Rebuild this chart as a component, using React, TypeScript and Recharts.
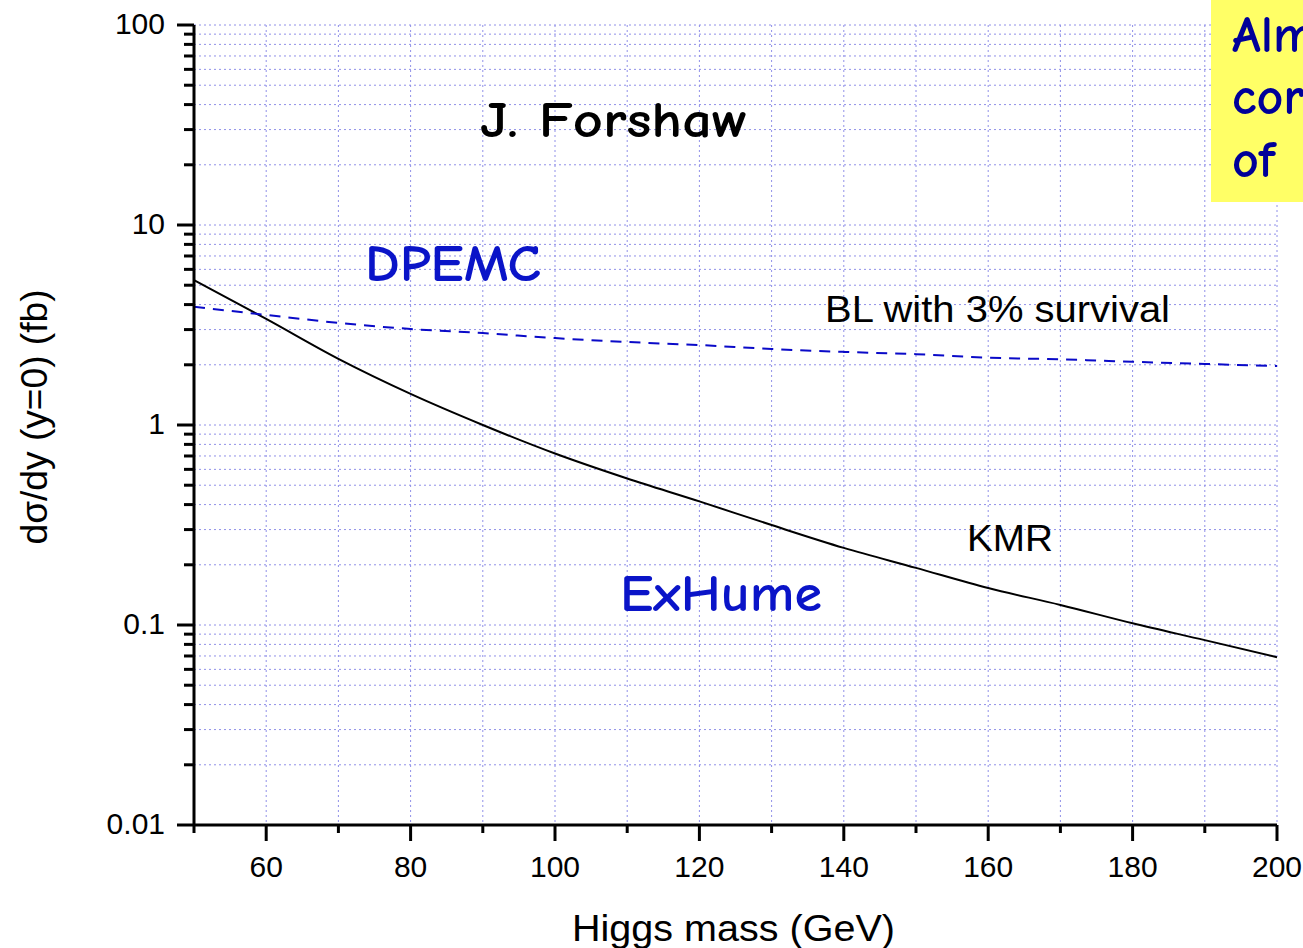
import { LineChart, Line, XAxis, YAxis, CartesianGrid } from "recharts";

// Higgs mass (GeV)
const masses = [50, 60, 70, 80, 90, 100, 110, 120, 130, 140, 150, 160, 170, 180, 190, 200];
// KMR, d sigma/dy at y=0 (fb)
const kmr = [5.3, 3.39, 2.14, 1.43, 1.0, 0.72, 0.54, 0.415, 0.316, 0.243, 0.193, 0.153, 0.126, 0.102, 0.084, 0.069];
// BL with 3% survival
const bl = [3.9, 3.55, 3.24, 3.02, 2.88, 2.72, 2.6, 2.51, 2.4, 2.32, 2.26, 2.17, 2.13, 2.07, 2.02, 1.97];

const xTicks = [50, 60, 70, 80, 90, 100, 110, 120, 130, 140, 150, 160, 170, 180, 190, 200];
const xLabelled = [60, 80, 100, 120, 140, 160, 180, 200];
const yTicks = [
  0.01, 0.02, 0.03, 0.04, 0.05, 0.06, 0.07, 0.08, 0.09,
  0.1, 0.2, 0.3, 0.4, 0.5, 0.6, 0.7, 0.8, 0.9,
  1, 2, 3, 4, 5, 6, 7, 8, 9,
  10, 20, 30, 40, 50, 60, 70, 80, 90,
  100,
];
const yLabelled = [0.01, 0.1, 1, 10, 100];

const rows = masses.map((m, i) => ({ m, kmr: kmr[i], bl: bl[i] }));

const sans = "'Liberation Sans', Arial, sans-serif";
const comic = "'Comic Sans MS', 'Comic Neue', 'DejaVu Sans', cursive";

const XTick = (p: any) => {
  const v = p.payload.value;
  const major = xLabelled.includes(v);
  return (
    <g>
      <line x1={p.x} x2={p.x} y1={p.y} y2={p.y + (major ? 16 : 8)} stroke="#000" strokeWidth={3} />
      {major && (
        <text x={p.x} y={p.y + 52} textAnchor="middle" fontSize={30} fontFamily={sans} fill="#000">
          {v}
        </text>
      )}
    </g>
  );
};

const YTick = (p: any) => {
  const v = p.payload.value;
  const major = yLabelled.includes(v);
  return (
    <g>
      <line x1={p.x} x2={p.x - (major ? 17 : 10)} y1={p.y} y2={p.y} stroke="#000" strokeWidth={3} />
      {major && (
        <text x={p.x - 29} y={p.y + 9} textAnchor="end" fontSize={30} fontFamily={sans} fill="#000">
          {v}
        </text>
      )}
    </g>
  );
};

export default function App() {
  return (
    <div style={{ position: "relative", width: 1303, height: 948, background: "#fff", overflow: "hidden" }}>
      <style>{"body{margin:0}"}</style>
      <LineChart width={1303} height={948} data={rows} margin={{ top: 25, right: 26, bottom: 0, left: 0 }}>
        <CartesianGrid stroke="#9090e8" strokeDasharray="2 3" strokeWidth={1} syncWithTicks />
        <XAxis
          dataKey="m"
          type="number"
          domain={[50, 200]}
          ticks={xTicks}
          interval={0}
          height={123}
          tickSize={0}
          tickMargin={0}
          tickLine={false}
          tick={<XTick />}
          axisLine={{ stroke: "#000", strokeWidth: 3 }}
        />
        <YAxis
          type="number"
          scale="log"
          domain={[0.01, 100]}
          allowDataOverflow
          ticks={yTicks}
          interval={0}
          width={194}
          tickSize={0}
          tickMargin={0}
          tickLine={false}
          tick={<YTick />}
          axisLine={{ stroke: "#000", strokeWidth: 3 }}
        />
        <Line dataKey="kmr" type="monotone" stroke="#000" strokeWidth={2} dot={false} isAnimationActive={false} />
        <Line
          dataKey="bl"
          type="monotone"
          stroke="#0a0ac8"
          strokeWidth={2}
          strokeDasharray="11 8"
          dot={false}
          isAnimationActive={false}
        />
      </LineChart>
      <svg width={1303} height={948} style={{ position: "absolute", left: 0, top: 0, pointerEvents: "none" }}>
        <text x={480} y={137} fontSize={50} fontWeight="bold" fontFamily={comic} fill="#000" textLength={268} lengthAdjust="spacingAndGlyphs">
          J. Forshaw
        </text>
        <text x={365} y={281} fontSize={52} fontWeight="bold" fontFamily={comic} fill="#0a14c8" textLength={176} lengthAdjust="spacingAndGlyphs">
          DPEMC
        </text>
        <text x={620} y={611} fontSize={52} fontWeight="bold" fontFamily={comic} fill="#0a14c8" textLength={202} lengthAdjust="spacingAndGlyphs">
          ExHume
        </text>
        <text x={825} y={322} fontSize={36} fontFamily={sans} fill="#000" textLength={345} lengthAdjust="spacingAndGlyphs">
          BL with 3% survival
        </text>
        <text x={967} y={551} fontSize={36} fontFamily={sans} fill="#000" textLength={86} lengthAdjust="spacingAndGlyphs">
          KMR
        </text>
        <text x={572} y={941} fontSize={37} fontFamily={sans} fill="#000" textLength={323} lengthAdjust="spacingAndGlyphs">
          Higgs mass (GeV)
        </text>
        <text
          x={47}
          y={417}
          transform="rotate(-90, 47, 417)"
          textAnchor="middle"
          fontSize={36}
          fontFamily={sans}
          fill="#000"
          textLength={255}
          lengthAdjust="spacingAndGlyphs"
        >
          dσ/dy (y=0) (fb)
        </text>
        <rect x={1211} y={0} width={92} height={202} fill="#ffff66" />
        <text fontSize={52} fontWeight="bold" fontFamily={comic} fill="#000099">
          <tspan x={1232} y={52}>Alm</tspan>
          <tspan x={1232} y={114}>cor</tspan>
          <tspan x={1232} y={177}>of</tspan>
        </text>
      </svg>
    </div>
  );
}
